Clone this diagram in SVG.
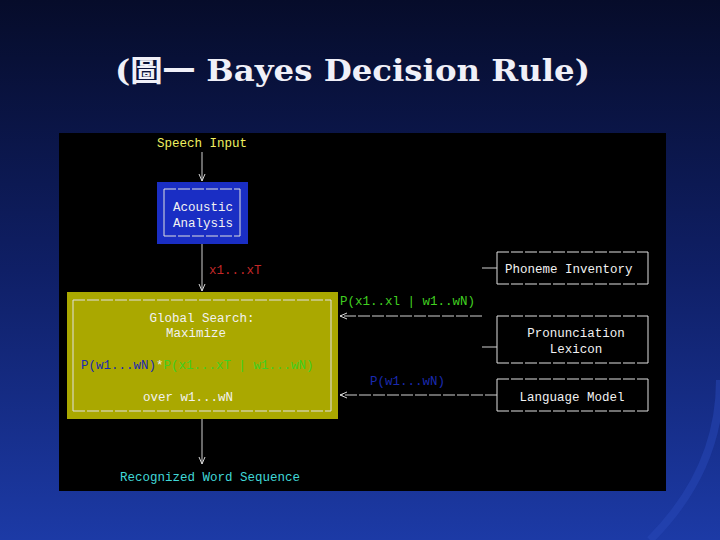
<svg xmlns="http://www.w3.org/2000/svg" width="720" height="540" viewBox="0 0 720 540">
<defs>
<linearGradient id="bg" x1="0" y1="0" x2="0" y2="1">
<stop offset="0" stop-color="#060c2a"/>
<stop offset="0.5" stop-color="#0f1f66"/>
<stop offset="1" stop-color="#1c3aa6"/>
</linearGradient>
<marker id="ah" viewBox="0 0 8 8" refX="7" refY="4" markerWidth="8" markerHeight="8" orient="auto" markerUnits="userSpaceOnUse">
<path d="M0,1 L7,4 L0,7" fill="none" stroke="#d8d8d8" stroke-width="1"/>
</marker>
<style>
.t{font-family:"Liberation Mono","DejaVu Sans Mono",monospace;font-size:12.5px}
.w{fill:#f2f2f2}
.ln{stroke:#d0d0d0;stroke-width:1;fill:none}
.dash{stroke:#e0e0e0;stroke-width:1;stroke-dasharray:12 2;fill:none}
.side{stroke:#e0e0e0;stroke-width:1;fill:none}
</style>
</defs>
<rect width="720" height="540" fill="url(#bg)"/>
<path d="M650,540 Q720,470 720,380" stroke="#2848b8" stroke-width="8" fill="none" opacity="0.5"/>
<text x="115" y="81" textLength="475" lengthAdjust="spacingAndGlyphs" font-family="DejaVu Serif, Noto Sans CJK TC, serif" font-size="30" font-weight="bold" fill="#f0f0f8">(圖一 Bayes Decision Rule)</text>
<rect x="59" y="133" width="607" height="358" fill="#000"/>

<g id="speech-input">
<text class="t" x="157" y="147" fill="#f0f060">Speech Input</text>
</g>
<g id="acoustic-analysis">
<rect x="157" y="182" width="91" height="62" fill="#1a2ec4"/>
<line class="dash" x1="164" y1="189" x2="240" y2="189"/>
<line class="dash" x1="164" y1="236" x2="240" y2="236"/>
<line class="side" x1="164" y1="189" x2="164" y2="236"/>
<line class="side" x1="240" y1="189" x2="240" y2="236"/>
<text class="t w" x="173" y="211">Acoustic</text>
<text class="t w" x="173" y="227">Analysis</text>
</g>
<g id="global-search">
<rect x="67" y="292" width="271" height="127" fill="#aaa800"/>
<line class="dash" x1="73" y1="300" x2="331" y2="300"/>
<line class="dash" x1="73" y1="411" x2="331" y2="411"/>
<line class="side" x1="73" y1="300" x2="73" y2="411"/>
<line class="side" x1="331" y1="300" x2="331" y2="411"/>
<text class="t w" x="202" y="322" text-anchor="middle">Global Search:</text>
<text class="t w" x="196" y="337" text-anchor="middle">Maximize</text>
<text class="t" x="81" y="369"><tspan fill="#1a2ab0">P(w1...wN)</tspan><tspan fill="#f0f0f0">*</tspan><tspan fill="#40d020">P(x1...xT | w1...wN)</tspan></text>
<text class="t w" x="188" y="401" text-anchor="middle">over w1...wN</text>
</g>
<g id="phoneme-inventory">
<line class="dash" x1="497" y1="252" x2="648" y2="252"/>
<line class="dash" x1="497" y1="284" x2="648" y2="284"/>
<line class="side" x1="497" y1="252" x2="497" y2="284"/>
<line class="side" x1="648" y1="252" x2="648" y2="284"/>
<text class="t w" x="505" y="273">Phoneme Inventory</text>
</g>
<g id="pronunciation-lexicon">
<line class="dash" x1="497" y1="316" x2="648" y2="316"/>
<line class="dash" x1="497" y1="363" x2="648" y2="363"/>
<line class="side" x1="497" y1="316" x2="497" y2="363"/>
<line class="side" x1="648" y1="316" x2="648" y2="363"/>
<text class="t w" x="576" y="337" text-anchor="middle">Pronunciation</text>
<text class="t w" x="576" y="353" text-anchor="middle">Lexicon</text>
</g>
<g id="language-model">
<line class="dash" x1="497" y1="379" x2="648" y2="379"/>
<line class="dash" x1="497" y1="411" x2="648" y2="411"/>
<line class="side" x1="497" y1="379" x2="497" y2="411"/>
<line class="side" x1="648" y1="379" x2="648" y2="411"/>
<text class="t w" x="572" y="401" text-anchor="middle">Language Model</text>
</g>
<g id="recognized">
<text class="t" x="120" y="481" fill="#40d8d8">Recognized Word Sequence</text>
</g>

<g id="connectors">
<line class="ln" x1="202" y1="152" x2="202" y2="181" marker-end="url(#ah)"/>
<line class="ln" x1="202" y1="244" x2="202" y2="291" marker-end="url(#ah)"/>
<text class="t" x="209" y="274" fill="#c42828">x1...xT</text>
<line class="ln" x1="202" y1="419" x2="202" y2="464" marker-end="url(#ah)"/>
<line class="ln" x1="482" y1="268" x2="497" y2="268"/>
<line class="ln" x1="482" y1="347" x2="497" y2="347"/>
<line class="ln" x1="482" y1="316" x2="340" y2="316" stroke-dasharray="12 2" marker-end="url(#ah)"/>
<text class="t" x="340" y="305" fill="#40d020">P(x1..xl | w1..wN)</text>
<line class="ln" x1="497" y1="395" x2="340" y2="395" stroke-dasharray="12 2" marker-end="url(#ah)"/>
<text class="t" x="370" y="385" fill="#1a2ab0">P(w1...wN)</text>
</g>
</svg>
